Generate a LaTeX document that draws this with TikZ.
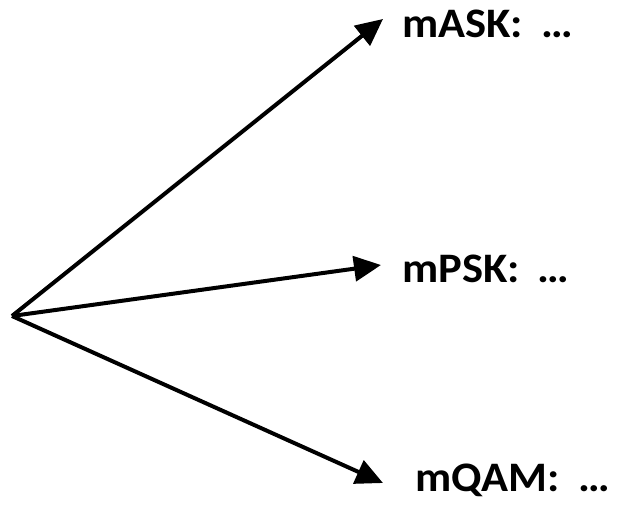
\documentclass[tikz,border=0pt]{standalone}
\usepackage{fontspec}
\setmainfont{Carlito}
\usetikzlibrary{arrows.meta}
\tikzset{
  ray/.style={line width=4pt, -{Triangle[length=27pt,width=25pt]}},
  lbl/.style={anchor=base west, inner sep=0pt, font=\fontsize{42}{48}\selectfont\bfseries}
}
\newcommand{\lbltext}[1]{\scalebox{1.06}[1]{#1:\hspace{0.18em} …}}
\begin{document}
\begin{tikzpicture}[x=1pt,y=1pt]
  \useasboundingbox (0,0) rectangle (623,505);
  \coordinate (o) at (12,189);
  \coordinate (t1) at (383,486);
  \coordinate (t2) at (381,240);
  \coordinate (t3) at (383,22);
  \draw[ray] (o) -- (t1);
  \draw[ray] (o) -- (t2);
  \draw[ray] (o) -- (t3);
  \node[lbl] (ask) at (402,467) {\lbltext{mASK}};
  \node[lbl] (psk) at (402,222) {\lbltext{mPSK}};
  \node[lbl] (qam) at (415,13) {\lbltext{mQAM}};
\end{tikzpicture}
\end{document}
